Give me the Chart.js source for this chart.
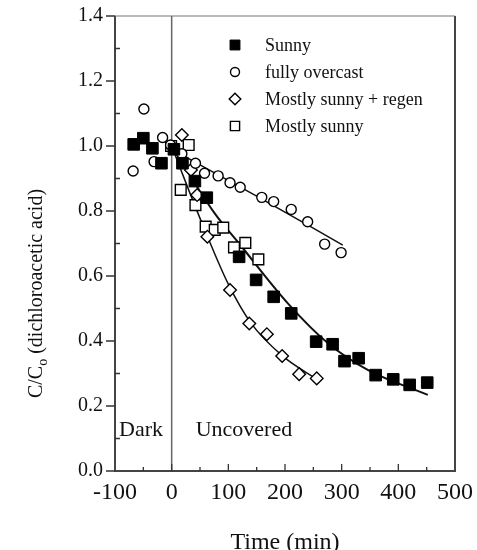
<!DOCTYPE html>
<html>
<head>
<meta charset="utf-8">
<script src="https://cdn.jsdelivr.net/npm/chart.js@4.4.1/dist/chart.umd.min.js"></script>
<style>
  html, body { margin: 0; padding: 0; background: #fff; }
  #wrap { width: 477px; height: 550px; position: relative; }
</style>
</head>
<body>
<div id="wrap"><canvas id="myChart"></canvas></div>
<script>
// values
const sunnyTime = [-67, -50, -34, -18, 4, 19, 41, 62, 119, 149, 180, 211, 255, 284, 305, 330, 360, 391, 420, 451];
const sunnyC = [1.005, 1.024, 0.993, 0.947, 0.99, 0.947, 0.892, 0.841, 0.659, 0.588, 0.536, 0.485, 0.398, 0.39, 0.338, 0.347, 0.295, 0.282, 0.265, 0.272];

const overcastTime = [-68, -49, -31, -16, -2, 18, 42, 58, 82, 103, 121, 159, 180, 211, 240, 270, 299];
const overcastC = [0.923, 1.114, 0.952, 1.026, 1.003, 0.976, 0.947, 0.916, 0.908, 0.887, 0.873, 0.842, 0.829, 0.805, 0.767, 0.698, 0.672];

const regenTime = [18, 34, 45, 63, 103, 137, 168, 195, 225, 256];
const regenC = [1.034, 0.926, 0.849, 0.721, 0.557, 0.454, 0.421, 0.354, 0.298, 0.285];

const mostlyTime = [-1, 16, 30, 42, 60, 76, 91, 110, 130, 153];
const mostlyC = [1.0, 0.865, 1.003, 0.818, 0.752, 0.742, 0.749, 0.688, 0.702, 0.651];

// fitted curves
const sunnyFitTime = [0, 75, 119, 205, 276, 346, 452];
const sunnyFitC = [1.0, 0.795, 0.70, 0.516, 0.393, 0.311, 0.234];
const overcastFitTime = [0, 150, 302];
const overcastFitC = [0.99, 0.846, 0.695];
const regenFitTime = [0, 30, 60, 100, 140, 195, 258];
const regenFitC = [1.0, 0.865, 0.735, 0.575, 0.455, 0.355, 0.28];

const legendLabels = ['Sunny', 'fully overcast', 'Mostly sunny + regen', 'Mostly sunny'];
const regionLabels = ['Dark', 'Uncovered'];

const serif = '"Liberation Serif", "DejaVu Serif", serif';

function pts(xs, ys) {
  return xs.map((x, i) => ({x: x, y: ys[i]}));
}

function fitLine(xs, ys, width) {
  return {
    type: 'line',
    data: pts(xs, ys),
    borderColor: '#111',
    borderWidth: width,
    pointRadius: 0,
    fill: false,
    cubicInterpolationMode: 'monotone'
  };
}

const markers = [
  {label: legendLabels[0], data: pts(sunnyTime, sunnyC), pointStyle: 'rect', pointRadius: 8.2,
   backgroundColor: '#000', borderColor: '#000', borderWidth: 1},
  {label: legendLabels[1], data: pts(overcastTime, overcastC), pointStyle: 'circle', pointRadius: 5,
   backgroundColor: '#fff', borderColor: '#000', borderWidth: 1.4},
  {label: legendLabels[2], data: pts(regenTime, regenC), pointStyle: 'rectRot', pointRadius: 6.3,
   backgroundColor: '#fff', borderColor: '#000', borderWidth: 1.4},
  {label: legendLabels[3], data: pts(mostlyTime, mostlyC), pointStyle: 'rect', pointRadius: 7.6,
   backgroundColor: '#fff', borderColor: '#000', borderWidth: 1.4}
];

// legend symbols are a bit smaller than the data marks
const legendRadius = [7, 4.5, 5.8, 6.5];

const decor = {
  id: 'decor',
  beforeDatasetsDraw(chart) {
    const ctx = chart.ctx;
    const a = chart.chartArea;
    const x = chart.scales.x;
    ctx.save();
    // dark / uncovered divider
    ctx.strokeStyle = '#666';
    ctx.lineWidth = 1.5;
    ctx.beginPath();
    ctx.moveTo(x.getPixelForValue(0), a.top);
    ctx.lineTo(x.getPixelForValue(0), a.bottom);
    ctx.stroke();
    ctx.restore();
  },
  afterDraw(chart) {
    const ctx = chart.ctx;
    const a = chart.chartArea;
    const x = chart.scales.x;
    const y = chart.scales.y;
    ctx.save();
    // frame
    ctx.strokeStyle = '#444';
    ctx.lineWidth = 2;
    ctx.beginPath();
    ctx.moveTo(a.left, a.top);
    ctx.lineTo(a.left, a.bottom);
    ctx.lineTo(a.right, a.bottom);
    ctx.lineTo(a.right, a.top);
    ctx.stroke();
    ctx.strokeStyle = '#777';
    ctx.lineWidth = 1.2;
    ctx.beginPath();
    ctx.moveTo(a.left, a.top);
    ctx.lineTo(a.right, a.top);
    ctx.stroke();

    // tick marks
    ctx.strokeStyle = '#333';
    ctx.lineWidth = 1.3;
    ctx.beginPath();
    y.ticks.forEach((t, i) => {
      const py = y.getPixelForValue(t.value);
      ctx.moveTo(a.left - 9, py);
      ctx.lineTo(a.left, py);
      if (i < y.ticks.length - 1) {
        const pm = y.getPixelForValue(t.value + 0.1);
        ctx.moveTo(a.left, pm);
        ctx.lineTo(a.left + 5, pm);
      }
    });
    x.ticks.forEach((t, i) => {
      const px = x.getPixelForValue(t.value);
      if (i > 0 && i < x.ticks.length - 1) {
        ctx.moveTo(px, a.bottom);
        ctx.lineTo(px, a.bottom - 7);
      }
      if (i < x.ticks.length - 1) {
        const pm = x.getPixelForValue(t.value + 50);
        ctx.moveTo(pm, a.bottom);
        ctx.lineTo(pm, a.bottom - 4);
      }
    });
    ctx.stroke();

    // legend
    ctx.font = '18px ' + serif;
    ctx.textAlign = 'left';
    ctx.textBaseline = 'middle';
    markers.forEach((m, i) => {
      const ly = a.top + 29 + i * 27;
      const lx = a.left + 120;
      ctx.fillStyle = m.backgroundColor;
      ctx.strokeStyle = m.borderColor;
      ctx.lineWidth = m.borderWidth;
      Chart.helpers.drawPoint(ctx, {pointStyle: m.pointStyle, radius: legendRadius[i], rotation: 0,
        borderWidth: m.borderWidth}, lx, ly);
      ctx.fillStyle = '#111';
      ctx.fillText(m.label, lx + 30, ly + 1);
    });

    // region labels
    ctx.font = '22px ' + serif;
    ctx.fillText(regionLabels[0], a.left + 4, a.bottom - 41);
    ctx.fillText(regionLabels[1], x.getPixelForValue(0) + 24, a.bottom - 41);

    // y title with subscript
    ctx.translate(37, (a.top + a.bottom) / 2 + 50);
    ctx.rotate(-Math.PI / 2);
    const main = 'C/C';
    const rest = ' (dichloroacetic acid)';
    ctx.font = '20px ' + serif;
    const w1 = ctx.measureText(main).width;
    const w3 = ctx.measureText(rest).width;
    ctx.font = '14px ' + serif;
    const w2 = ctx.measureText('o').width;
    const sx = -(w1 + w2 + w3) / 2;
    ctx.font = '20px ' + serif;
    ctx.fillText(main, sx, 0);
    ctx.font = '14px ' + serif;
    ctx.fillText('o', sx + w1, 6);
    ctx.font = '20px ' + serif;
    ctx.fillText(rest, sx + w1 + w2, 0);
    ctx.restore();

    // x title
    ctx.save();
    ctx.fillStyle = '#111';
    ctx.font = '24px ' + serif;
    ctx.textAlign = 'center';
    ctx.textBaseline = 'middle';
    ctx.fillText('Time (min)', (a.left + a.right) / 2, 543);
    ctx.restore();
  }
};

new Chart('myChart', {
  type: 'scatter',
  data: {
    datasets: [
      ...markers,
      fitLine(sunnyFitTime, sunnyFitC, 2),
      fitLine(overcastFitTime, overcastFitC, 1.5),
      fitLine(regenFitTime, regenFitC, 1.5)
    ]
  },
  options: {
    responsive: true,
    maintainAspectRatio: false,
    animation: false,
    layout: {padding: {top: 16, right: 22, left: 0, bottom: 0}},
    plugins: {legend: {display: false}, tooltip: {enabled: false}},
    scales: {
      x: {
        type: 'linear',
        min: -100,
        max: 500,
        grid: {display: false, drawTicks: false},
        border: {display: false},
        ticks: {stepSize: 100, padding: 7, color: '#111', font: {family: serif, size: 24}},
        afterFit: s => { s.height = 79; s.paddingLeft = 0; s.paddingRight = 0; }
      },
      y: {
        min: 0,
        max: 1.4,
        grid: {display: false, drawTicks: false},
        border: {display: false},
        ticks: {stepSize: 0.2, padding: 12, color: '#111', font: {family: serif, size: 20},
          callback: v => v.toFixed(1)},
        afterFit: s => { s.width = 115; s.paddingTop = 0; s.paddingBottom = 0; }
      }
    }
  },
  plugins: [decor]
});
</script>
</body>
</html>
